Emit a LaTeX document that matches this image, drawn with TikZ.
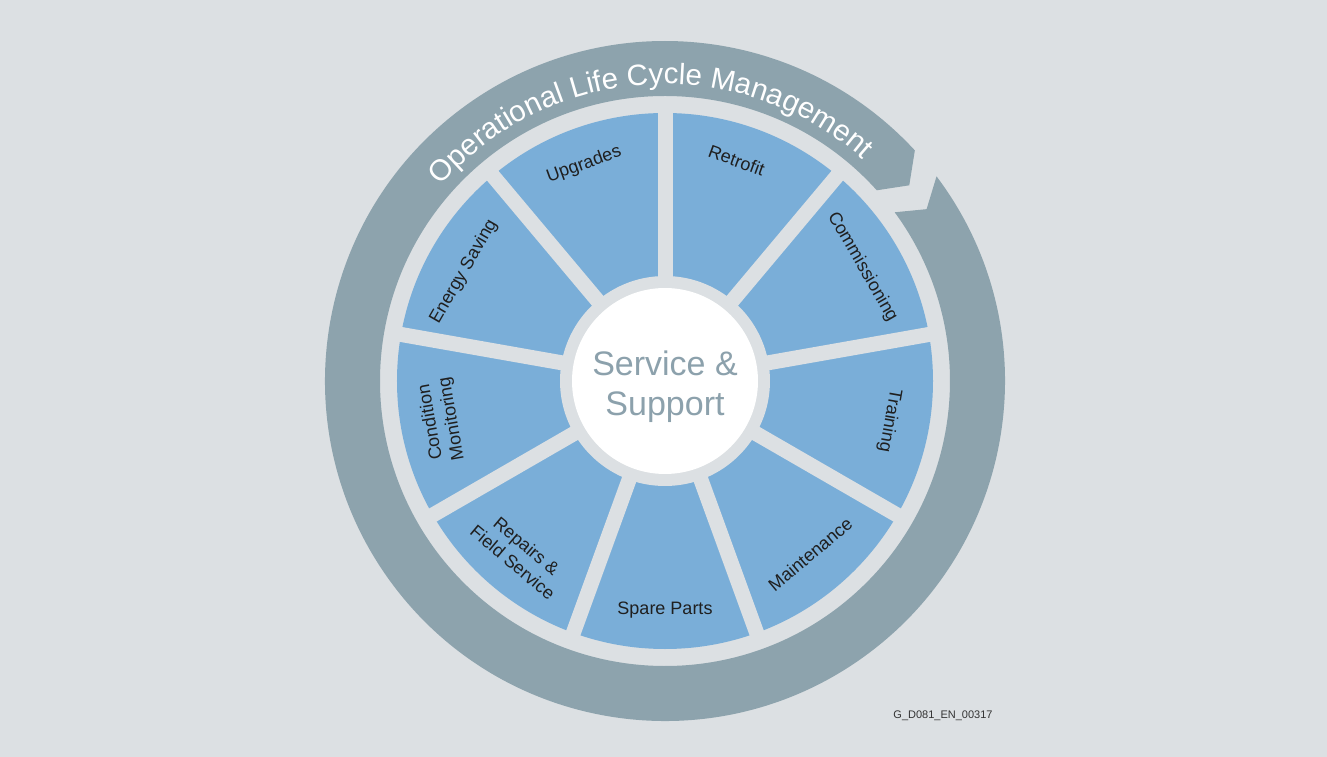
\documentclass[tikz,border=0pt]{standalone}
\usepackage{fontspec}
\setmainfont{Liberation Sans}
\usetikzlibrary{decorations.text}
\definecolor{bggrey}{HTML}{DCE0E3}
\definecolor{ringgrey}{HTML}{8DA3AD}
\definecolor{segblue}{HTML}{7AAED8}
\definecolor{coretext}{HTML}{8CA1AC}

\begin{document}
\begin{tikzpicture}[x=1pt, y=1pt,
  seg/.style={font=\fontsize{18}{21.5}\selectfont, align=center, text=black!88, inner sep=1pt},
  core/.style={circle, fill=white, minimum size=186pt, inner sep=0pt},
  coretxt/.style={align=center, font=\fontsize{34}{40}\selectfont, text=coretext},
  gap/.style={bggrey, line width=15pt},
  tag/.style={font=\fontsize{11}{13}\selectfont, text=black!80}]
\fill[bggrey] (-665,-376) rectangle (662,381);
\useasboundingbox (-665,-376) rectangle (662,381);
\fill[ringgrey] (37:340pt) arc[start angle=37, end angle=-317.3, radius=340pt]
  -- (-321.3:313pt) -- (-318:285pt)
  arc[start angle=-318, end angle=36.3, radius=285pt] -- (33.3:313pt) -- cycle;
\path[decorate, decoration={text along path, text align=center, text color=white,
  text={|\fontsize{29.5}{29.5}\selectfont|Operational Life Cycle Management}}]
  (187.2:297pt) arc[start angle=187.2, end angle=0, radius=297pt];
\fill[segblue] (0,0) circle[radius=268pt];
\fill[bggrey] (0,0) circle[radius=105pt];
\foreach \a in {10,50,...,330}
  \draw[gap] (\a:95pt) -- (\a:280pt);
\node[core] (hub) at (0,0) {};
\node[coretxt] (hubtxt) at (0,-6) {Service \&\\Support};
\node[seg, rotate=20]   (upg) at (110.5:231pt) {Upgrades};
\node[seg, rotate=-20]  (ret) at (72:232pt)  {Retrofit};
\node[seg, rotate=-60]  (com) at (30:228pt)  {Commissioning};
\node[seg, rotate=-100] (trn) at (-10:228pt) {Training};
\node[seg, rotate=40]   (mnt) at (-50:226pt) {Maintenance};
\node[seg]              (spr) at (-90:229pt) {Spare Parts};
\node[seg, rotate=-40]  (rep) at (230:226pt) {Repairs \&\\Field Service};
\node[seg, rotate=100]  (cnd) at (190:227pt) {Condition\\Monitoring};
\node[seg, rotate=60]   (eng) at (151.5:229pt) {Energy Saving};
\node[tag] (code) at (278,-335) {G\_D081\_EN\_00317};
\end{tikzpicture}
\end{document}
